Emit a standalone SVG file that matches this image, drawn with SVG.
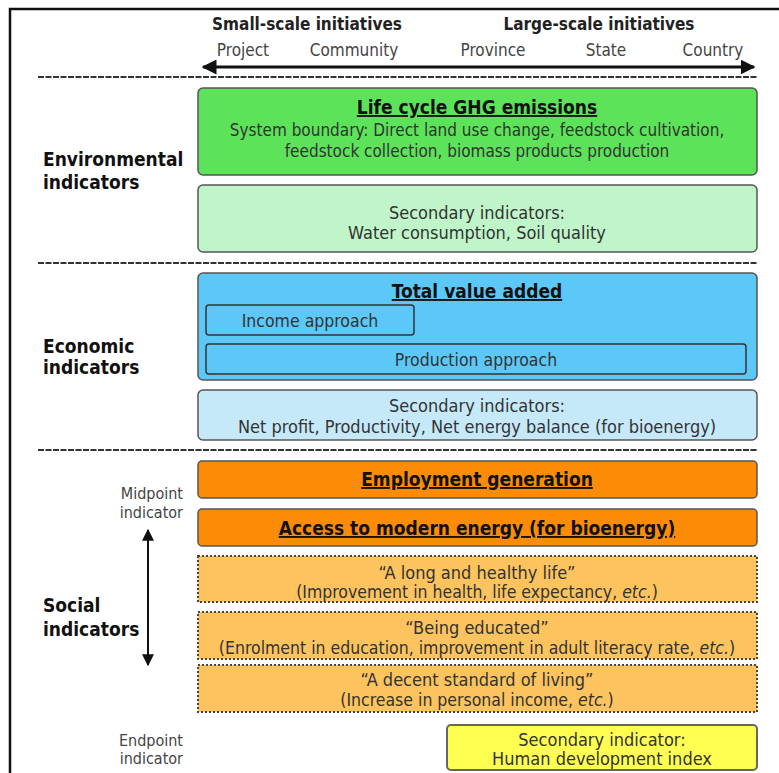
<svg xmlns="http://www.w3.org/2000/svg" width="779" height="773" viewBox="0 0 779 773">
<style>
text{font-family:"DejaVu Sans Condensed","DejaVu Sans",sans-serif;fill:#333;text-anchor:middle}
.hd{font-weight:bold;font-size:17px;fill:#222}
.sc{font-size:17px;fill:#444}
.lb{font-weight:bold;font-size:19px;fill:#111;text-anchor:start}
.t{font-size:18px}
.s{font-size:17.5px}
.b{font-size:17px}
.u{font-weight:bold;font-size:19px;text-decoration:underline;fill:#111}
.sm{font-size:16px;fill:#444;text-anchor:end}
.box{stroke:#555;stroke-width:1.5}
.dot{stroke:#444;stroke-width:2;stroke-dasharray:2 2}
.sep{stroke:#333;stroke-width:2;stroke-dasharray:6 1.5}
</style>
<defs>
<marker id="ah" viewBox="0 0 10 10" refX="9" refY="5" markerWidth="5" markerHeight="5" orient="auto-start-reverse" markerUnits="strokeWidth"><path d="M0,0 L10,5 L0,10 z" fill="#111"/></marker>
<marker id="ah2" viewBox="0 0 10 10" refX="9" refY="5" markerWidth="6" markerHeight="6" orient="auto-start-reverse"><path d="M0,0 L10,5 L0,10 z" fill="#111"/></marker>
</defs>
<rect width="779" height="773" fill="#fff"/>
<path d="M10,790 V9 H790" fill="none" stroke="#111" stroke-width="2.5"/>
<text class="hd" x="307" y="30">Small-scale initiatives</text>
<text class="hd" x="599" y="30">Large-scale initiatives</text>
<text class="sc" x="243" y="56">Project</text>
<text class="sc" x="354" y="56">Community</text>
<text class="sc" x="493" y="56">Province</text>
<text class="sc" x="606" y="56">State</text>
<text class="sc" x="713" y="56">Country</text>
<g id="connectors">
<line x1="203" y1="67" x2="754" y2="67" stroke="#111" stroke-width="3" marker-start="url(#ah)" marker-end="url(#ah)"/>
<line x1="148" y1="530" x2="148" y2="665" stroke="#111" stroke-width="2" marker-start="url(#ah2)" marker-end="url(#ah2)"/>
</g>
<line class="sep" x1="38" y1="77" x2="757" y2="77"/>
<line class="sep" x1="38" y1="263" x2="757" y2="263"/>
<line class="sep" x1="38" y1="450" x2="757" y2="450"/>
<g id="env-label"><text class="lb" x="43" y="166">Environmental</text><text class="lb" x="43" y="189">indicators</text></g>
<g id="ghg"><rect class="box" x="198" y="88" width="559" height="87" rx="5" fill="#5ce35a"/>
<text class="u" x="477" y="114">Life cycle GHG emissions</text>
<text class="b" x="477" y="136">System boundary: Direct land use change, feedstock cultivation,</text>
<text class="b" x="477" y="157">feedstock collection, biomass products production</text></g>
<g id="env-sec"><rect class="box" x="198" y="185" width="559" height="67" rx="5" fill="#bff5c9"/>
<text class="t" x="477" y="219" fill="#444">Secondary indicators:</text>
<text class="t" x="477" y="239">Water consumption, Soil quality</text></g>
<g id="eco-label"><text class="lb" x="43" y="353">Economic</text><text class="lb" x="43" y="374">indicators</text></g>
<g id="tva"><rect class="box" x="198" y="273" width="559" height="107" rx="5" fill="#5cc8f8"/>
<text class="u" x="477" y="298">Total value added</text></g>
<g id="income"><rect x="206" y="305" width="208" height="30" rx="3" fill="#5cc8f8" stroke="#333" stroke-width="1.5"/>
<text class="s" x="310" y="327">Income approach</text></g>
<g id="production"><rect x="206" y="344" width="540" height="30" rx="3" fill="#5cc8f8" stroke="#333" stroke-width="1.5"/>
<text class="s" x="476" y="366">Production approach</text></g>
<g id="eco-sec"><rect class="box" x="198" y="390" width="559" height="50" rx="5" fill="#c6e9fa"/>
<text class="t" x="477" y="412" fill="#444">Secondary indicators:</text>
<text class="t" x="477" y="433">Net profit, Productivity, Net energy balance (for bioenergy)</text></g>
<g id="soc-label"><text class="lb" x="43" y="612">Social</text><text class="lb" x="43" y="636">indicators</text></g>
<g id="mid"><text class="sm" x="183" y="499">Midpoint</text><text class="sm" x="183" y="518">indicator</text></g>
<g id="end"><text class="sm" x="183" y="746">Endpoint</text><text class="sm" x="183" y="764">indicator</text></g>
<g id="employment"><rect class="box" x="198" y="461" width="559" height="37" rx="4" fill="#fc8c05"/>
<text class="u" x="477" y="486">Employment generation</text></g>
<g id="access"><rect class="box" x="198" y="509" width="559" height="37" rx="4" fill="#fc8c05"/>
<text class="u" x="477" y="535">Access to modern energy (for bioenergy)</text></g>
<g id="health"><rect class="dot" x="198" y="556" width="559" height="46" fill="#fcc35e"/>
<text class="t" x="477" y="579">“A long and healthy life”</text>
<text class="s" x="477" y="598">(Improvement in health, life expectancy, <tspan font-style="italic">etc.</tspan>)</text></g>
<g id="education"><rect class="dot" x="198" y="612" width="559" height="47" fill="#fcc35e"/>
<text class="t" x="477" y="634">“Being educated”</text>
<text class="s" x="477" y="654">(Enrolment in education, improvement in adult literacy rate, <tspan font-style="italic">etc.</tspan>)</text></g>
<g id="living"><rect class="dot" x="198" y="665" width="559" height="47" fill="#fcc35e"/>
<text class="t" x="477" y="686">“A decent standard of living”</text>
<text class="s" x="477" y="706">(Increase in personal income, <tspan font-style="italic">etc.</tspan>)</text></g>
<g id="hdi"><rect x="447" y="725" width="310" height="45" rx="4" fill="#ffff52" stroke="#666" stroke-width="2"/>
<text class="t" x="602" y="746">Secondary indicator:</text>
<text class="t" x="602" y="765">Human development index</text></g>
</svg>
